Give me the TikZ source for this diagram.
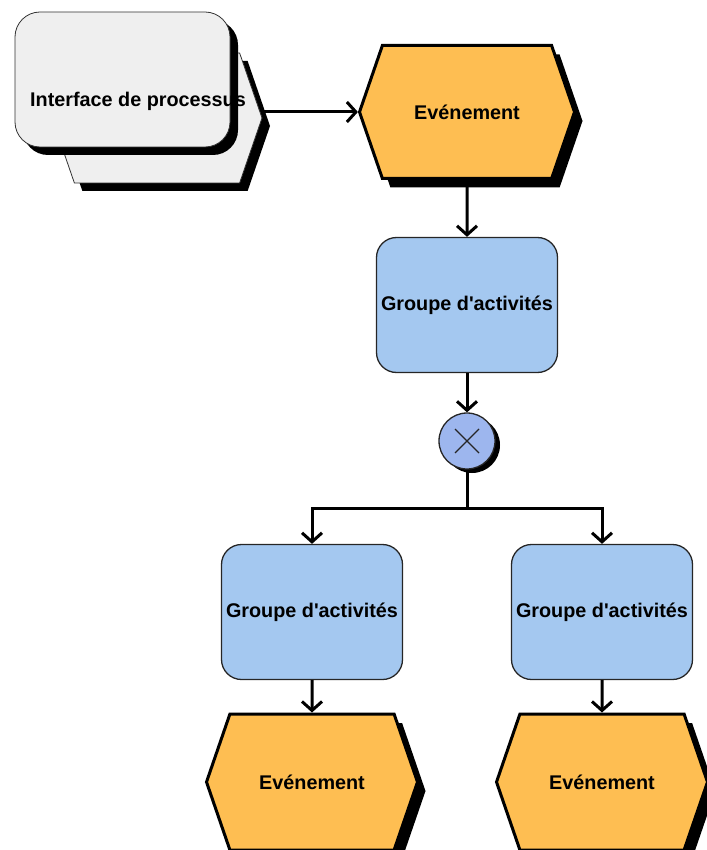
\documentclass[tikz,border=0pt]{standalone}
\usepackage{fontspec}
\setmainfont{Liberation Sans}
\usetikzlibrary{shapes.symbols,shadows,arrows.meta}
\definecolor{evtfill}{RGB}{254,190,82}
\definecolor{grpfill}{RGB}{164,200,240}
\definecolor{xorfill}{RGB}{157,182,238}
\definecolor{itffill}{RGB}{239,239,239}
\tikzset{
  lbl/.style={font=\bfseries\fontsize{19.8}{22}\selectfont},
  evt/.style={signal,signal to=west and east,signal pointer angle=142,draw,line width=3pt,
    fill=evtfill,minimum width=215pt,minimum height=133pt,inner sep=0pt,lbl,
    drop shadow={shadow xshift=8pt,shadow yshift=-9pt,fill=black,opacity=1}},
  grp/.style={rectangle,rounded corners=20pt,draw=black!85,line width=1.3pt,fill=grpfill,
    minimum width=181pt,minimum height=135pt,inner sep=0pt,lbl},
  xor/.style={circle,draw=black!85,line width=1.3pt,fill=xorfill,minimum size=56pt,
    drop shadow={shadow xshift=5pt,shadow yshift=-4pt,fill=black,opacity=1}},
  flow/.style={line width=3pt,-{Straight Barb[length=9pt,width=20pt]}}
}
\begin{document}
\begin{tikzpicture}[x=1pt,y=-1pt]
\useasboundingbox (0,0) rectangle (706,850);
% process interface
\node at (157,118) [signal,signal to=west and east,signal pointer angle=142,draw=black!80,
  line width=0.8pt,fill=itffill,minimum width=210pt,minimum height=130pt,
  drop shadow={shadow xshift=8pt,shadow yshift=-8pt,fill=black,opacity=1}] (iback) {};
\node at (122.5,79.5) [rectangle,rounded corners=25pt,draw=black!80,line width=0.8pt,
  fill=itffill,minimum width=215pt,minimum height=135pt,
  drop shadow={shadow xshift=8pt,shadow yshift=-8pt,fill=black,opacity=1}] (ifront) {};
\node at (138,101) [lbl] (itext) {Interface de processus};
% main flow
\node at (467,112) [evt] (ev1) {Evénement};
\node at (467,305) [grp] (g1) {Groupe d\textquotesingle activités};
\node at (467,441) [xor,path picture={
  \draw[line width=1.2pt] (path picture bounding box.center) +(-12pt,-12pt) -- +(12pt,12pt)
    (path picture bounding box.center) +(-12pt,12pt) -- +(12pt,-12pt);}] (x1) {};
\coordinate (sp) at (467,508);
\node at (312,612) [grp] (g2) {Groupe d\textquotesingle activités};
\node at (602,612) [grp] (g3) {Groupe d\textquotesingle activités};
\node at (312,782) [evt,minimum width=211pt,minimum height=136pt] (ev2) {Evénement};
\node at (602,782) [evt,minimum width=211pt,minimum height=136pt] (ev3) {Evénement};
\draw[flow] (iback.east |- ev1.west) -- (ev1.west);
\draw[flow] (ev1) -- (g1);
\draw[flow] (g1) -- (x1);
\draw[line width=3pt] (x1) -- (sp);
\draw[flow] (sp) -| (g2);
\draw[flow] (sp) -| (g3);
\draw[flow] (g2) -- (ev2);
\draw[flow] (g3) -- (ev3);
\end{tikzpicture}
\end{document}
